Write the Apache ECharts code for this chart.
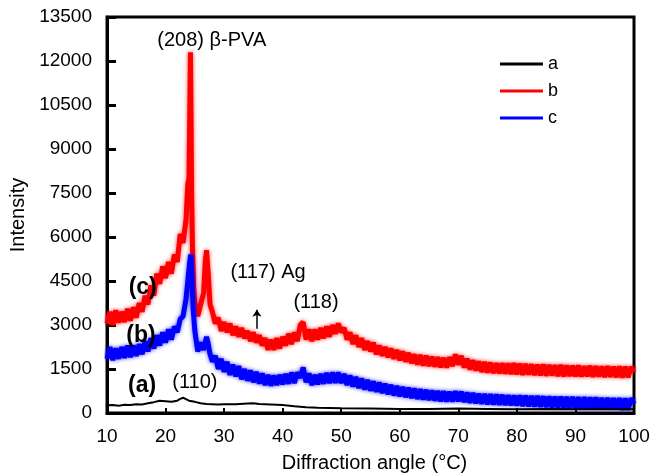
<!DOCTYPE html>
<html>
<head>
<meta charset="utf-8">
<script src="https://cdn.jsdelivr.net/npm/echarts/dist/echarts.min.js"></script>
<style>
  html, body { margin: 0; padding: 0; background: #fff; }
  #main { width: 660px; height: 475px; }
</style>
</head>
<body>
<div id="main"></div>
<script>
// curve a (black)
const angleA = [10, 11, 12, 13, 14, 15, 16, 17, 18, 19, 20, 21, 22, 22.5, 23, 23.5, 24, 25, 26, 27, 28, 29, 30,
  32, 34, 35, 36, 38, 40, 42, 44, 46, 48, 50, 55, 60, 65, 70, 75, 80, 85, 90, 95, 100];
const intensityA = [260, 270, 250, 280, 270, 300, 290, 330, 370, 420, 400, 380, 420, 480, 520, 470, 420, 380, 330, 310, 300, 290, 300,
  300, 320, 330, 310, 290, 270, 230, 200, 180, 170, 160, 150, 140, 140, 150, 140, 130, 140, 130, 140, 130];

// curve b (red)
const angleB = [10, 10.5, 11, 11.5, 12, 12.5, 13, 13.5, 14, 14.5, 15, 15.5, 16, 16.5, 17, 17.5, 18, 18.5, 19, 19.5,
  20, 20.5, 21, 21.5, 22, 22.5, 23, 23.5, 23.8, 24, 24.15, 24.25, 24.35, 24.45, 24.6, 24.8, 25, 25.5, 26, 26.5,
  26.8, 27, 27.3, 27.6, 28, 28.5, 29, 29.5, 30, 30.5, 31, 31.5, 32, 32.5, 33, 33.5, 34, 34.5, 35, 35.5,
  36, 36.5, 37, 37.5, 38, 38.5, 39, 39.5, 40, 40.5, 41, 41.5, 42, 42.5, 43, 43.5, 44, 44.5, 45, 45.5,
  46, 46.5, 47, 47.5, 48, 48.5, 49, 49.5, 50, 50.5, 51, 51.5, 52, 52.5, 53, 53.5, 54, 54.5, 55, 55.5,
  56, 56.5, 57, 57.5, 58, 58.5, 59, 59.5, 60, 60.5, 61, 61.5, 62, 62.5, 63, 63.5, 64, 64.5, 65, 65.5,
  66, 66.5, 67, 67.5, 68, 68.5, 69, 69.5, 70, 70.5, 71, 71.5, 72, 72.5, 73, 73.5, 74, 74.5, 75, 75.5,
  76, 76.5, 77, 77.5, 78, 78.5, 79, 79.5, 80, 80.5, 81, 81.5, 82, 82.5, 83, 83.5, 84, 84.5, 85, 85.5,
  86, 86.5, 87, 87.5, 88, 88.5, 89, 89.5, 90, 90.5, 91, 91.5, 92, 92.5, 93, 93.5, 94, 94.5, 95, 95.5,
  96, 96.5, 97, 97.5, 98, 98.5, 99, 99.5, 100];
const intensityB = [3050, 3450, 3000, 3500, 3080, 3450, 3100, 3550, 3150, 3600, 3250, 3750, 3450, 4000, 3700, 4350, 4000, 4750, 4400, 5000,
  4600, 5150, 4750, 5400, 5150, 6100, 5800, 6600, 7800, 8000, 10500, 12300, 10200, 7500, 5600, 4300, 3750, 3300, 3700, 4100,
  5200, 5550, 4700, 3700, 3450, 3050, 3250, 2800, 3100, 2750, 3050, 2650, 2950, 2600, 2900, 2550, 2800, 2450, 2750, 2400,
  2650, 2300, 2550, 2150, 2500, 2150, 2550, 2200, 2600, 2300, 2700, 2350, 2750, 2450, 3000, 3100, 2500, 2850, 2450, 2850,
  2500, 2900, 2550, 2950, 2600, 3000, 2700, 3050, 2750, 2900, 2500, 2750, 2350, 2650, 2250, 2550, 2150, 2450, 2100, 2400,
  2000, 2300, 1950, 2250, 1900, 2200, 1850, 2150, 1800, 2100, 1750, 2050, 1700, 2000, 1650, 1980, 1620, 1950, 1600, 1920,
  1580, 1900, 1560, 1880, 1550, 1900, 1600, 2000, 1650, 1950, 1550, 1850, 1480, 1800, 1450, 1760, 1400, 1740, 1380, 1720,
  1360, 1700, 1350, 1700, 1340, 1690, 1330, 1700, 1320, 1680, 1300, 1670, 1310, 1660, 1290, 1650, 1280, 1660, 1270, 1640,
  1280, 1630, 1260, 1640, 1250, 1620, 1260, 1610, 1250, 1620, 1240, 1600, 1250, 1610, 1230, 1600, 1240, 1590, 1220, 1600,
  1230, 1580, 1220, 1590, 1210, 1580, 1220, 1570, 1400];

// curve c (blue)
const angleC = [10, 10.5, 11, 11.5, 12, 12.5, 13, 13.5, 14, 14.5, 15, 15.5, 16, 16.5, 17, 17.5, 18, 18.5, 19, 19.5,
  20, 20.5, 21, 21.5, 22, 22.5, 23, 23.5, 23.8, 24.1, 24.3, 24.5, 24.7, 25, 25.5, 26, 26.5, 27, 27.3, 27.6,
  28, 28.5, 29, 29.5, 30, 30.5, 31, 31.5, 32, 32.5, 33, 33.5, 34, 34.5, 35, 35.5, 36, 36.5, 37, 37.5,
  38, 38.5, 39, 39.5, 40, 40.5, 41, 41.5, 42, 42.5, 43, 43.5, 44, 44.5, 45, 45.5, 46, 46.5, 47, 47.5,
  48, 48.5, 49, 49.5, 50, 50.5, 51, 51.5, 52, 52.5, 53, 53.5, 54, 54.5, 55, 55.5, 56, 56.5, 57, 57.5,
  58, 58.5, 59, 59.5, 60, 60.5, 61, 61.5, 62, 62.5, 63, 63.5, 64, 64.5, 65, 65.5, 66, 66.5, 67, 67.5,
  68, 68.5, 69, 69.5, 70, 70.5, 71, 71.5, 72, 72.5, 73, 73.5, 74, 74.5, 75, 75.5, 76, 76.5, 77, 77.5,
  78, 78.5, 79, 79.5, 80, 80.5, 81, 81.5, 82, 82.5, 83, 83.5, 84, 84.5, 85, 85.5, 86, 86.5, 87, 87.5,
  88, 88.5, 89, 89.5, 90, 90.5, 91, 91.5, 92, 92.5, 93, 93.5, 94, 94.5, 95, 95.5, 96, 96.5, 97, 97.5,
  98, 98.5, 99, 99.5, 100];
const intensityC = [1850, 2250, 1800, 2200, 1850, 2250, 1880, 2300, 1900, 2300, 1950, 2350, 2000, 2450, 2100, 2550, 2200, 2650, 2300, 2750,
  2400, 2850, 2500, 2950, 2750, 3200, 3300, 3900, 4500, 5100, 5400, 4600, 3600, 2800, 2100, 2400, 2150, 2600, 2350, 2000,
  1750, 1950, 1500, 1850, 1400, 1750, 1300, 1650, 1250, 1600, 1150, 1500, 1100, 1450, 1050, 1400, 1000, 1350, 950, 1300,
  930, 1280, 950, 1300, 980, 1330, 1000, 1380, 1020, 1380, 1200, 1550, 1050, 1350, 950, 1300, 980, 1330, 1000, 1370,
  1020, 1380, 1030, 1380, 1020, 1330, 950, 1280, 900, 1230, 850, 1180, 800, 1130, 760, 1080, 720, 1040, 680, 1000,
  640, 960, 600, 920, 570, 890, 540, 860, 510, 840, 480, 810, 460, 790, 440, 770, 420, 750, 400, 740,
  390, 730, 390, 740, 400, 730, 370, 700, 350, 680, 330, 660, 310, 650, 300, 640, 290, 630, 280, 620,
  270, 610, 260, 600, 250, 600, 240, 590, 230, 580, 220, 580, 210, 570, 200, 570, 190, 560, 180, 560,
  170, 550, 170, 550, 160, 540, 150, 540, 150, 530, 140, 530, 130, 520, 130, 520, 120, 510, 120, 510,
  110, 500, 110, 500, 320];

// text notes in the plot (data coordinates)
const curveTagText = ['(c)', '(b)', '(a)'];
const curveTagX = [16.1, 15.8, 16.0];
const curveTagY = [4270, 2630, 920];

const peakTagText = ['(208) \u03b2-PVA', '(117) Ag', '(118)', '(110)'];
const peakTagX = [27.9, 37.5, 45.7, 25.0];
const peakTagY = [12715, 4785, 3760, 1025];

// small arrow under "(117) Ag"
const arrowX = 35.6;
const arrowFrom = 2870;
const arrowTo = 3520;

const FONT = "'Liberation Sans', Arial, Helvetica, sans-serif";

function zip(xs, ys) {
  return xs.map(function(x, i) { return [x, ys[i]]; });
}

var chart = echarts.init(document.getElementById('main'));

var option = {
  animation: false,
  textStyle: { fontFamily: FONT },
  grid: {
    show: true,
    left: 107,
    right: 26,
    top: 17,
    bottom: 62,
    containLabel: false,
    outerBoundsMode: 'none',
    borderColor: '#000',
    borderWidth: 3
  },
  legend: {
    data: ['a', 'b', 'c'],
    orient: 'vertical',
    left: 500,
    top: 54,
    padding: 0,
    icon: 'rect',
    itemWidth: 43,
    itemHeight: 3,
    itemGap: 7,
    textStyle: { fontSize: 18, color: '#000', fontFamily: FONT, lineHeight: 20 }
  },
  xAxis: {
    type: 'value',
    min: 10,
    max: 100,
    interval: 10,
    name: 'Diffraction angle (\u00b0C)',
    nameLocation: 'middle',
    nameGap: 40,
    nameTextStyle: { fontSize: 20, color: '#000', fontFamily: FONT, padding: [0, 0, 0, 8] },
    axisLine: { lineStyle: { color: '#000', width: 3 } },
    axisTick: { inside: true, length: 5, lineStyle: { color: '#000', width: 2 } },
    axisLabel: { fontSize: 19, color: '#000', margin: 14, fontFamily: FONT },
    splitLine: { show: false }
  },
  yAxis: {
    type: 'value',
    min: 0,
    max: 13500,
    interval: 1500,
    name: 'Intensity',
    nameLocation: 'middle',
    nameGap: 77,
    nameTextStyle: { fontSize: 20, color: '#000', fontFamily: FONT },
    axisLine: { show: true, lineStyle: { color: '#000', width: 3 } },
    axisTick: { show: true, inside: true, length: 9, lineStyle: { color: '#000', width: 3 } },
    axisLabel: {
      fontSize: 19,
      color: '#000',
      margin: 15,
      fontFamily: FONT,
      formatter: function(v) { return String(v); }
    },
    splitLine: { show: false }
  },
  series: [
    {
      name: 'b',
      type: 'line',
      data: zip(angleB, intensityB),
      showSymbol: false,
      symbol: 'none',
      color: '#ff0000',
      lineStyle: { width: 5, color: '#ff0000', shadowColor: 'rgba(255,0,0,0.7)', shadowBlur: 4 }
    },
    {
      name: 'c',
      type: 'line',
      data: zip(angleC, intensityC),
      showSymbol: false,
      symbol: 'none',
      color: '#0000ff',
      lineStyle: { width: 5, color: '#0000ff', shadowColor: 'rgba(0,0,255,0.7)', shadowBlur: 4 }
    },
    {
      name: 'a',
      type: 'line',
      data: zip(angleA, intensityA),
      showSymbol: false,
      symbol: 'none',
      color: '#000',
      lineStyle: { width: 2, color: '#000' }
    },
    {
      name: 'curveTags',
      type: 'scatter',
      silent: true,
      z: 10,
      symbolSize: 0,
      itemStyle: { opacity: 1 },
      data: curveTagX.map(function(x, i) { return [x, curveTagY[i], curveTagText[i]]; }),
      label: {
        show: true,
        position: [0, 0],
        align: 'center',
        verticalAlign: 'middle',
        formatter: function(p) { return p.data[2]; },
        fontSize: 23,
        fontWeight: 'bold',
        color: '#000',
        fontFamily: FONT
      }
    },
    {
      name: 'peakTags',
      type: 'scatter',
      silent: true,
      z: 10,
      symbolSize: 0,
      itemStyle: { opacity: 1 },
      data: peakTagX.map(function(x, i) { return [x, peakTagY[i], peakTagText[i]]; }),
      label: {
        show: true,
        position: [0, 0],
        align: 'center',
        verticalAlign: 'middle',
        formatter: function(p) { return p.data[2]; },
        fontSize: 20,
        color: '#000',
        fontFamily: FONT
      },
      markLine: {
        silent: true,
        symbol: ['none', 'arrow'],
        symbolSize: 7,
        label: { show: false },
        lineStyle: { color: '#000', width: 1.5, type: 'solid' },
        data: [[{ coord: [arrowX, arrowFrom] }, { coord: [arrowX, arrowTo] }]]
      }
    }
  ]
};

chart.setOption(option);
</script>
</body>
</html>
